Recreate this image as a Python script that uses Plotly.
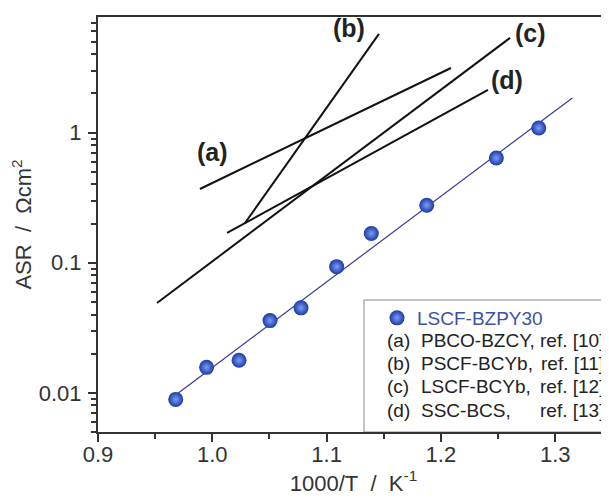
import numpy as np
import plotly.graph_objects as go

# ---- data ----
inv_T = [0.968, 0.995, 1.0234, 1.0505, 1.0776, 1.1088, 1.1391, 1.1876, 1.2485, 1.2856]
asr = [0.0089, 0.0157, 0.0178, 0.0359, 0.0450, 0.0933, 0.168, 0.277, 0.638, 1.087]

fit_x = [0.968, 1.315]
fit_y = [0.00964, 1.85]

ref_lines = {
    "a": ([0.9892, 1.2088], [0.369, 3.14]),
    "b": ([1.0286, 1.1458], [0.202, 5.74]),
    "c": ([0.9516, 1.2605], [0.0491, 5.35]),
    "d": ([1.0129, 1.2412], [0.1695, 2.13]),
}
ref_label_pos = {
    "a": (1.0006, 0.711),
    "b": (1.1196, 6.38),
    "c": (1.278, 5.84),
    "d": (1.2578, 2.54),
}
legend_rows = [
    ("(a)", "PBCO-BZCY,", "ref. [10]"),
    ("(b)", "PSCF-BCYb,", "ref. [11]"),
    ("(c)", "LSCF-BCYb,", "ref. [12]"),
    ("(d)", "SSC-BCS,", "ref. [13]"),
]
x_ticks = [0.9, 1.0, 1.1, 1.2, 1.3]
y_ticks = [0.01, 0.1, 1]
y_ticktext = ["0.01", "0.1", "1"]

FONT = "Arial, 'Liberation Sans', Helvetica, sans-serif"
AX = "#333333"

fig = go.Figure()

for key, (xs, ys) in ref_lines.items():
    fig.add_trace(go.Scatter(x=xs, y=ys, mode="lines",
                             line=dict(color="#111111", width=2),
                             showlegend=False, hoverinfo="skip"))

fig.add_trace(go.Scatter(x=fit_x, y=fit_y, mode="lines",
                         line=dict(color="#3b3b9c", width=1.2),
                         showlegend=False, hoverinfo="skip"))

fig.add_trace(go.Scatter(x=inv_T, y=asr, mode="markers", name="LSCF-BZPY30",
                         marker=dict(size=15, color="#1a3aa8",
                                     gradient=dict(type="radial", color="#7f9cf2"),
                                     line=dict(width=0)),
                         showlegend=True))

annotations = []
for key, (lx, ly) in ref_label_pos.items():
    annotations.append(dict(x=lx, y=np.log10(ly), xref="x", yref="y",
                            text=f"<b>({key})</b>", showarrow=False,
                            font=dict(family=FONT, size=25, color="#222222"),
                            xanchor="center", yanchor="middle"))

# legend rows (paper coords; page pixels measured from the window corner)
x0_px, y_bottom_px, plot_w, plot_h = 98, 432, 511, 415
def px2paper_x(px):
    return (px - x0_px) / plot_w
def px2paper_y(py):
    return (y_bottom_px - py) / plot_h

row_y = [340, 363, 386.5, 410]
for (lab, name, ref), py in zip(legend_rows, row_y):
    annotations.append(dict(x=px2paper_x(385), y=px2paper_y(py), xref="paper", yref="paper",
                            text=lab, showarrow=False, xanchor="left", yanchor="middle",
                            font=dict(family=FONT, size=19, color="#222222")))
    annotations.append(dict(x=px2paper_x(419), y=px2paper_y(py), xref="paper", yref="paper",
                            text=name, showarrow=False, xanchor="left", yanchor="middle",
                            font=dict(family=FONT, size=19, color="#222222")))
    annotations.append(dict(x=px2paper_x(606), y=px2paper_y(py), xref="paper", yref="paper",
                            text=ref, showarrow=False, xanchor="right", yanchor="middle",
                            font=dict(family=FONT, size=19, color="#222222")))

minor_y = []
for dec in [0.001, 0.01, 0.1, 1]:
    for m in range(2, 10):
        minor_y.append(m * dec)

# page body has an 8px margin: compensate so the plot area sits at x 98..609, y 17..432
fig.update_layout(
    width=609, height=502,
    margin=dict(l=90, r=8, t=9, b=78),
    plot_bgcolor="white", paper_bgcolor="white",
    font=dict(family=FONT, color=AX),
    showlegend=True,
    legend=dict(x=px2paper_x(377), y=px2paper_y(299), xanchor="left", yanchor="top",
                bgcolor="rgba(0,0,0,0)", borderwidth=0,
                font=dict(family=FONT, size=19, color="#3a53a4")),
    shapes=[dict(type="rect", xref="paper", yref="paper",
                 x0=px2paper_x(364), x1=1.03, y0=0, y1=px2paper_y(300),
                 line=dict(color="#8a8a8a", width=1), fillcolor="rgba(0,0,0,0)", layer="below")],
    annotations=annotations,
    xaxis=dict(range=[0.9, 0.9 + 511 / 1143], tickmode="array", tickvals=x_ticks,
               ticktext=[f"{v:.1f}" for v in x_ticks], automargin=False,
               ticks="outside", ticklen=8, tickwidth=1.5, tickcolor=AX,
               minor=dict(dtick=0.05, tick0=0.9, ticks="outside", ticklen=5, tickwidth=1.5, tickcolor=AX, showgrid=False),
               showline=True, linecolor=AX, linewidth=2, mirror=True,
               showgrid=False, zeroline=False,
               tickfont=dict(size=22, color=AX),
               ticklabelposition="outside",
               ticklabelstandoff=-6,
               title=dict(text="1000/T\u00a0\u00a0/\u00a0\u00a0K<sup>-1</sup>", font=dict(size=22, color=AX), standoff=8)),
    yaxis=dict(type="log", range=[np.log10(0.005), 0.889], automargin=False,
               tickmode="array", tickvals=y_ticks, ticktext=y_ticktext,
               ticks="outside", ticklen=8, tickwidth=1.5, tickcolor=AX,
               minor=dict(tickmode="array", tickvals=minor_y, ticks="outside", ticklen=5, tickwidth=1.5, tickcolor=AX, showgrid=False),
               showline=True, linecolor=AX, linewidth=2, mirror=False,
               showgrid=False, zeroline=False,
               tickfont=dict(size=22, color=AX),
               ticklabelstandoff=2,
               title=dict(text="ASR\u00a0\u00a0/\u00a0\u00a0\u03a9cm<sup>2</sup>", font=dict(size=22, color=AX), standoff=6)),
)

fig.write_html("out.html")
